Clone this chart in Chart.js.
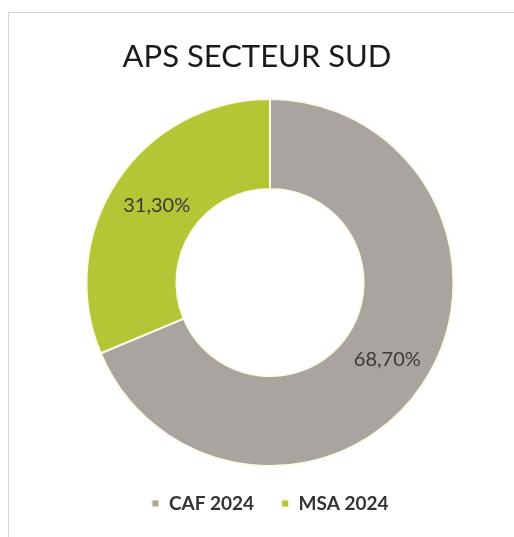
<!DOCTYPE html>
<html>
<head>
<meta charset="utf-8">
<script src="https://cdn.jsdelivr.net/npm/chart.js@4/dist/chart.umd.min.js"></script>
<style>
  html, body { margin: 0; padding: 0; background: #ffffff; }
  #wrap { position: relative; width: 514px; height: 537px; overflow: hidden; }
  #frame { position: absolute; left: 8px; top: 12px; width: 520px; height: 540px;
           border-left: 1px solid #d6d6d6; border-top: 1px solid #d6d6d6; }
  canvas { position: absolute; left: 0; top: 0; }
</style>
</head>
<body>
<div id="wrap">
  <div id="frame"></div>
  <canvas id="c" width="514" height="537"></canvas>
</div>
<script>
const chartTitle = "APS SECTEUR SUD";
const categories = ["CAF 2024", "MSA 2024"];
const values = [68.70, 31.30];
const valueLabels = ["68,70%", "31,30%"];
const colors = ["#aaa4a0", "#b3c636"];

const titlePlugin = {
  id: 'customTitle',
  afterDraw(chart) {
    const ctx = chart.ctx;
    ctx.save();
    ctx.font = 'normal 31px Lato';
    ctx.fillStyle = '#1a1a1a';
    ctx.textAlign = 'center';
    ctx.textBaseline = 'middle';
    ctx.fillText(chartTitle, 257, 57);
    ctx.restore();
  }
};

const labelPlugin = {
  id: 'sliceLabels',
  afterDatasetsDraw(chart) {
    const ctx = chart.ctx;
    const meta = chart.getDatasetMeta(0);
    ctx.save();
    ctx.font = 'normal 20px Lato';
    ctx.fillStyle = '#3a3a3a';
    ctx.textAlign = 'center';
    ctx.textBaseline = 'middle';
    meta.data.forEach((arc, i) => {
      const p = arc.tooltipPosition();
      ctx.fillText(valueLabels[i], p.x + 2, p.y);
    });
    ctx.restore();
  }
};

new Chart(document.getElementById('c'), {
  type: 'doughnut',
  data: {
    labels: categories,
    datasets: [{
      data: values,
      backgroundColor: colors,
      borderColor: '#fbfbe8',
      borderWidth: 2,
      hoverOffset: 0
    }]
  },
  options: {
    responsive: false,
    animation: false,
    cutout: '51%',
    layout: { padding: { left: 26, right: 0, top: 98, bottom: 14 } },
    plugins: {
      title: { display: false },
      tooltip: { enabled: false },
      legend: {
        display: true,
        position: 'bottom',
        labels: {
          boxWidth: 8,
          boxHeight: 8,
          padding: 27,
          color: '#333333',
          font: { family: 'Lato', size: 19, weight: 'bold' }
        }
      }
    }
  },
  plugins: [titlePlugin, labelPlugin]
});
</script>
</body>
</html>
